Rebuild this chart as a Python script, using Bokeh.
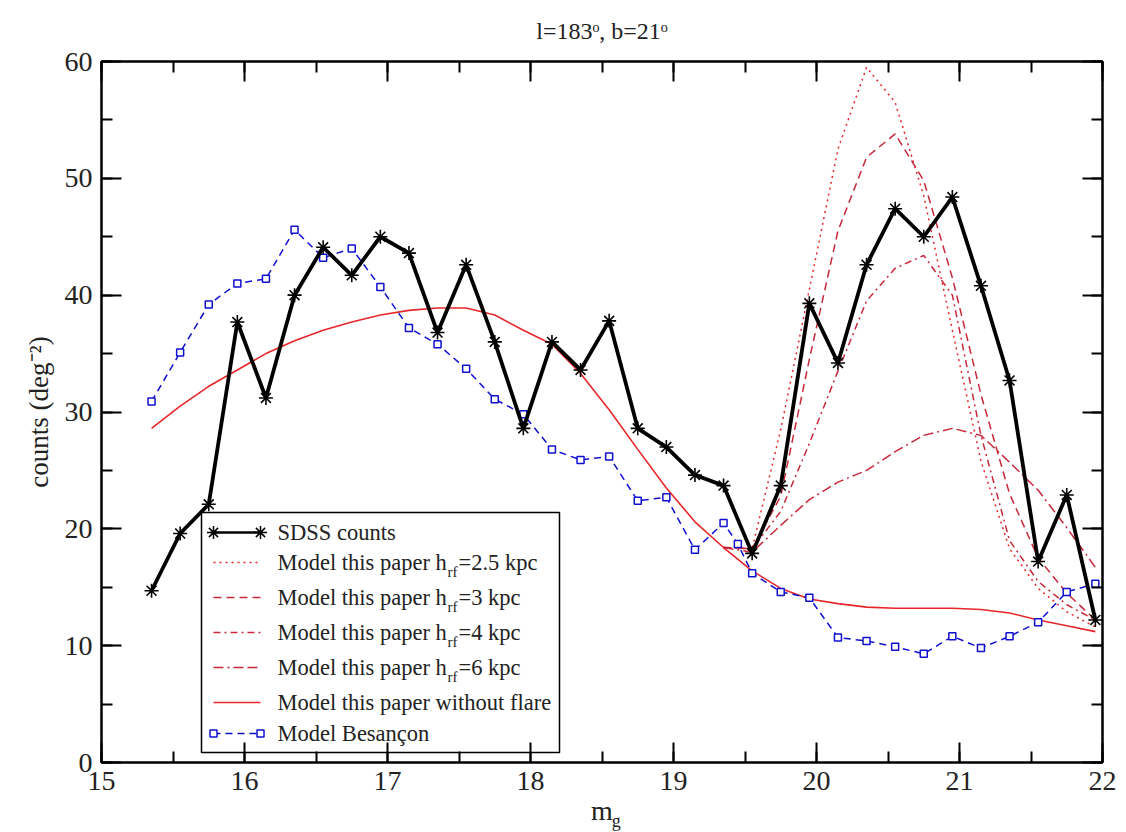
from bokeh.embed import file_html
from bokeh.models import FixedTicker, Label, LinearAxis, SingleIntervalTicker
from bokeh.plotting import figure
from bokeh.resources import INLINE

# ---------------------------------------------------------------- data
mag = [15.35, 15.55, 15.75, 15.95, 16.15, 16.35, 16.55, 16.75, 16.95, 17.15,
       17.35, 17.55, 17.75, 17.95, 18.15, 18.35, 18.55, 18.75, 18.95, 19.15,
       19.35, 19.55, 19.75, 19.95, 20.15, 20.35, 20.55, 20.75, 20.95, 21.15,
       21.35, 21.55, 21.75, 21.95]

sdss_counts = [14.7, 19.6, 22.1, 37.7, 31.2, 40.0, 44.1, 41.7, 45.0, 43.6,
               36.8, 42.6, 36.0, 28.6, 36.0, 33.6, 37.8, 28.6, 27.0, 24.6,
               23.7, 17.9, 23.7, 39.3, 34.2, 42.6, 47.4, 45.0, 48.4, 40.8,
               32.7, 17.2, 22.9, 12.2]

no_flare = [28.6, 30.5, 32.2, 33.6, 35.0, 36.1, 37.0, 37.7, 38.3, 38.7,
            38.9, 38.9, 38.3, 37.0, 35.8, 33.3, 30.2, 26.8, 23.5, 20.6,
            18.4, 16.4, 14.9, 14.0, 13.6, 13.3, 13.2, 13.2, 13.2, 13.1,
            12.8, 12.2, 11.7, 11.2]

besancon_mag = [15.35, 15.55, 15.75, 15.95, 16.15, 16.35, 16.55, 16.75, 16.95,
                17.15, 17.35, 17.55, 17.75, 17.95, 18.15, 18.35, 18.55, 18.75,
                18.95, 19.15, 19.35, 19.45, 19.55, 19.75, 19.95, 20.15, 20.35,
                20.55, 20.75, 20.95, 21.15, 21.35, 21.55, 21.75, 21.95]
besancon = [30.9, 35.1, 39.2, 41.0, 41.4, 45.6, 43.2, 44.0, 40.7, 37.2,
            35.8, 33.7, 31.1, 29.8, 26.8, 25.9, 26.2, 22.4, 22.7, 18.2,
            20.5, 18.7, 16.2, 14.6, 14.1, 10.7, 10.4, 9.9, 9.3, 10.8,
            9.8, 10.8, 12.0, 14.6, 15.3]

flare_mag = [19.35, 19.55, 19.75, 19.95, 20.15, 20.35, 20.55, 20.75, 20.95,
             21.15, 21.35, 21.55, 21.75, 21.95]
flare_h25 = [18.4, 18.3, 28.5, 40.5, 52.5, 59.5, 56.5, 48.5, 37.0, 25.8,
             18.3, 14.9, 12.9, 11.6]
flare_h3 = [18.4, 18.3, 22.8, 34.5, 45.5, 51.8, 53.8, 49.8, 41.5, 31.5,
            23.0, 17.5, 14.5, 12.2]
flare_h4 = [18.4, 18.3, 21.5, 27.3, 33.5, 39.5, 42.3, 43.4, 40.0, 28.0,
            19.0, 15.5, 13.5, 12.2]
flare_h6 = [18.4, 18.0, 20.3, 22.5, 24.0, 25.0, 26.6, 28.0, 28.6, 28.0,
            25.7, 23.3, 20.1, 16.7]

title_text = "l=183ᵒ, b=21ᵒ"
x_label = "m"
x_label_sub = "g"
y_label = "counts (deg⁻²)"

# ---------------------------------------------------------------- layout
W, H = 1126, 832
FL, FR, FT, FB = 101, 1102, 61, 762          # frame edges in pixels
X0, X1, Y0, Y1 = 15.0, 22.0, 0.0, 60.0
SUB_X = 18.6                                  # where the "g" subscript sits

SERIF = "Liberation Serif"
TEXT = "#222222"
RED = "#e8262a"
DARK_RED = "#c8283a"
BLUE = "#1010d0"


def px_x(px):
    return X0 + (px - FL) * (X1 - X0) / (FR - FL)


def px_y(py):
    return Y0 + (FB - py) * (Y1 - Y0) / (FB - FT)


p = figure(frame_width=FR - FL, frame_height=FB - FT,
           x_range=(X0, X1), y_range=(Y0, Y1),
           output_backend="svg", toolbar_location=None,
           min_border_left=FL, min_border_right=W - FR,
           min_border_top=FT, min_border_bottom=H - FB,
           background_fill_color="white", border_fill_color="white",
           title=title_text)
p.xgrid.grid_line_color = None
p.ygrid.grid_line_color = None
p.outline_line_color = "black"
p.outline_line_width = 2

p.title.text_font = SERIF
p.title.text_font_size = "24px"
p.title.text_font_style = "normal"
p.title.text_color = TEXT
p.title.align = "center"
p.title.vertical_align = "top"
p.title.standoff = 32


def style_axis(ax, ticker, labels=True):
    ax.ticker = ticker
    ax.axis_line_color = "black"
    ax.axis_line_width = 2
    ax.major_tick_line_width = 2
    ax.minor_tick_line_width = 2
    ax.major_tick_line_color = "black"
    ax.minor_tick_line_color = "black"
    ax.major_tick_in = 20
    ax.major_tick_out = 0
    ax.minor_tick_in = 11
    ax.minor_tick_out = 0
    if labels:
        ax.major_label_text_font = SERIF
        ax.major_label_text_font_size = "28px"
        ax.major_label_text_color = TEXT
        ax.major_label_standoff = 9
        ax.axis_label_text_font = SERIF
        ax.axis_label_text_font_style = "normal"
        ax.axis_label_text_color = TEXT
    else:
        ax.major_label_text_color = None
        ax.major_label_text_font_size = "1px"
        ax.major_label_standoff = 0


xax, yax = p.xaxis[0], p.yaxis[0]
style_axis(xax, SingleIntervalTicker(interval=1, num_minor_ticks=2))
style_axis(yax, SingleIntervalTicker(interval=10, num_minor_ticks=2))
xax.axis_label = x_label
xax.axis_label_text_font_size = "28px"
xax.axis_label_standoff = 2
yax.axis_label = y_label
yax.axis_label_text_font_size = "27px"
yax.axis_label_standoff = 8

top_axis = LinearAxis()
right_axis = LinearAxis()
style_axis(top_axis, SingleIntervalTicker(interval=1, num_minor_ticks=2), labels=False)
style_axis(right_axis, SingleIntervalTicker(interval=10, num_minor_ticks=2), labels=False)
p.add_layout(top_axis, "above")
p.add_layout(right_axis, "right")

# subscript of the x-axis label, drawn as the only tick label of a bare axis
sub_axis = LinearAxis(ticker=FixedTicker(ticks=[SUB_X]),
                      major_label_overrides={SUB_X: x_label_sub},
                      axis_line_color=None, major_tick_line_color=None,
                      minor_tick_line_color=None,
                      major_tick_in=0, major_tick_out=0,
                      minor_tick_in=0, minor_tick_out=0,
                      major_label_standoff=-18,
                      major_label_text_font=SERIF,
                      major_label_text_font_size="18px",
                      major_label_text_color=TEXT)
p.add_layout(sub_axis, "below")

# ---------------------------------------------------------------- curves
p.line(mag, no_flare, line_color=RED, line_width=1.6)
p.line(flare_mag, flare_h25, line_color=RED, line_width=1.5, line_dash="2 4")
p.line(flare_mag, flare_h3, line_color=DARK_RED, line_width=1.5, line_dash="8 5")
p.line(flare_mag, flare_h4, line_color=DARK_RED, line_width=1.5, line_dash="7 4 2 4")
p.line(flare_mag, flare_h6, line_color=DARK_RED, line_width=1.5, line_dash="10 4 2 4 10 4")

p.line(besancon_mag, besancon, line_color=BLUE, line_width=1.5, line_dash="7 5")
p.scatter(besancon_mag, besancon, marker="square", size=7, line_color=BLUE,
          fill_color="white", line_width=1.5)

p.line(mag, sdss_counts, line_color="black", line_width=3.8)
p.scatter(mag, sdss_counts, marker="asterisk", size=14, line_color="black",
          line_width=1.6)

# ---------------------------------------------------------------- legend
LL, LR, LT, LB = 201, 559, 512, 752
p.quad(left=[px_x(LL)], right=[px_x(LR)], top=[px_y(LT)], bottom=[px_y(LB)],
       fill_color="white", line_color="black", line_width=1.5)

s0, s1 = px_x(213), px_x(260)
text_x = px_x(277)
rows = [532, 562, 597, 632, 667, 702, 733]

p.line([s0, s1], [px_y(rows[0])] * 2, line_color="black", line_width=2.5)
p.scatter([s0, s1], [px_y(rows[0])] * 2, marker="asterisk", size=13,
          line_color="black", line_width=1.5)
p.line([s0, s1], [px_y(rows[1])] * 2, line_color=RED, line_width=1.5, line_dash="2 4")
p.line([s0, s1], [px_y(rows[2])] * 2, line_color=DARK_RED, line_width=1.5, line_dash="8 5")
p.line([s0, s1], [px_y(rows[3])] * 2, line_color=DARK_RED, line_width=1.5, line_dash="7 4 2 4")
p.line([s0, s1], [px_y(rows[4])] * 2, line_color=DARK_RED, line_width=1.5, line_dash="10 4 2 4 10 4")
p.line([s0, s1], [px_y(rows[5])] * 2, line_color=RED, line_width=1.6)
p.line([s0, s1], [px_y(rows[6])] * 2, line_color=BLUE, line_width=1.5, line_dash="7 5")
p.scatter([s0, s1], [px_y(rows[6])] * 2, marker="square", size=7,
          line_color=BLUE, fill_color="white", line_width=1.5)

LEG_FS = "22.5px"
SUB_FS = "15px"


def add_text(x, y, text, size, **kw):
    p.add_layout(Label(x=x, y=y, text=text, text_font=SERIF,
                       text_font_size=size, text_color=TEXT,
                       text_baseline="middle", **kw))


add_text(text_x, px_y(rows[0]), "SDSS counts", LEG_FS)
for row, hval in zip(rows[1:5], ["2.5", "3", "4", "6"]):
    y = px_y(row)
    add_text(text_x, y, "Model this paper h", LEG_FS)
    add_text(px_x(447), y, "rf", SUB_FS, y_offset=-9)
    add_text(px_x(458), y, "=" + hval + " kpc", LEG_FS)
add_text(text_x, px_y(rows[5]), "Model this paper without flare", LEG_FS)
add_text(text_x, px_y(rows[6]), "Model Besançon", LEG_FS)

open("out.html", "w").write(file_html(p, INLINE))
